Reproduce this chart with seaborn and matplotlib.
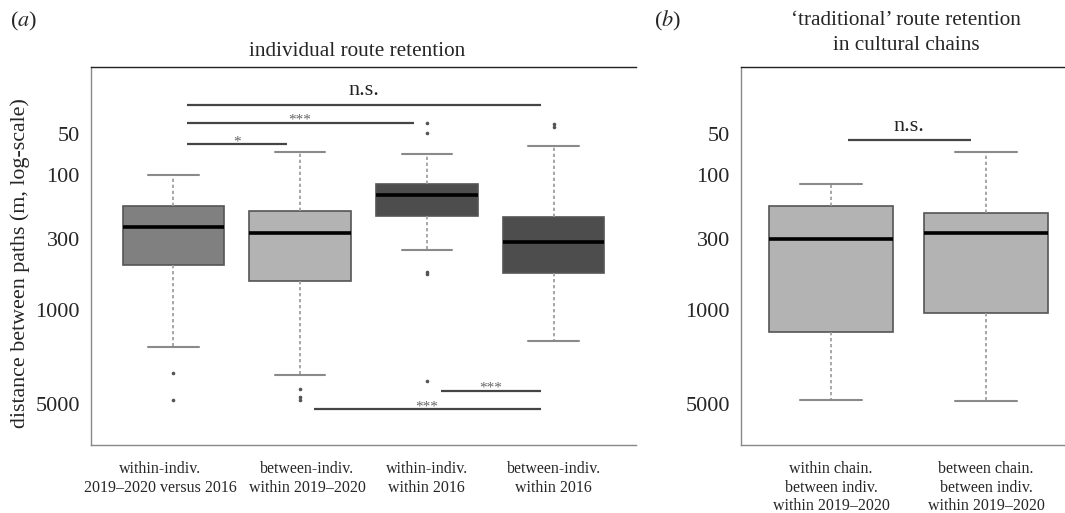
import numpy as np
import pandas as pd
import matplotlib
matplotlib.use("Agg")
import matplotlib.pyplot as plt
from matplotlib.ticker import NullLocator
from matplotlib.transforms import ScaledTranslation
import seaborn as sns

# (a) individual route retention -- distance between paths (m)
groups_a = [
    "within-indiv.\n2019–2020 versus 2016",
    "between-indiv.\nwithin 2019–2020",
    "within-indiv.\nwithin 2016",
    "between-indiv.\nwithin 2016",
]
dist_a1 = [100, 115, 135, 155, 170, 190, 210, 228, 242, 290, 350, 410, 465, 900, 1880, 2930, 4670]
dist_a2 = [67, 90, 120, 160, 185, 205, 228, 250, 271, 340, 420, 510, 611, 3062, 3870, 4440, 4670]
dist_a3 = [41, 49, 70, 95, 116, 122, 128, 135, 141, 155, 170, 185, 201, 358, 525, 540, 3373]
dist_a4 = [42, 44, 61, 120, 205, 230, 260, 290, 314, 370, 420, 480, 533, 800, 1200, 1500, 1690]
fills_a = ["#808080", "#b3b3b3", "#4d4d4d", "#4d4d4d"]

# (b) 'traditional' route retention in cultural chains
groups_b = [
    "within chain.\nbetween indiv.\nwithin 2019–2020",
    "between chain.\nbetween indiv.\nwithin 2019–2020",
]
dist_b1 = [117, 130, 145, 160, 170, 200, 230, 265, 298, 450, 700, 1000, 1454, 2000, 3000, 4000, 4645]
dist_b2 = [67, 100, 140, 170, 192, 210, 230, 250, 271, 400, 600, 800, 1063, 1800, 2800, 3800, 4750]
fills_b = ["#b3b3b3", "#b3b3b3"]

yticks = [50, 100, 300, 1000, 5000]

# significance bars: (group i, group j, label, level in m)
sig_a = [(0, 3, "n.s.", 30), (0, 2, "***", 41), (0, 1, "*", 59),
         (2, 3, "***", 3970), (1, 3, "***", 5490)]
sig_b = [(0, 1, "n.s.", 54.7)]


def long_df(groups, series):
    rows = []
    for g, vals in zip(groups, series):
        for v in vals:
            rows.append({"group": g, "dist": v})
    return pd.DataFrame(rows)


sns.set_style("white")
plt.rcParams["font.family"] = ["Liberation Serif", "DejaVu Serif"]
plt.rcParams["mathtext.fontset"] = "stix"

fig = plt.figure(figsize=(10.65, 5.13), dpi=100)
W, H = 1065, 513
ax_a = fig.add_axes([91 / W, (H - 445) / H, 545 / W, 378 / H])
ax_b = fig.add_axes([741 / W, (H - 445) / H, 335 / W, 378 / H])

box_kws = dict(
    saturation=1, width=0.8, log_scale=True, legend=False,
    boxprops=dict(edgecolor="#555555", linewidth=1.2),
    medianprops=dict(color="black", linewidth=2.6),
    whiskerprops=dict(color="#9a9a9a", linewidth=1.2, linestyle=(0, (2, 1.6))),
    capprops=dict(color="#8a8a8a", linewidth=1.5),
    flierprops=dict(marker="o", markersize=1.6, markerfacecolor="#555555",
                    markeredgecolor="#555555"),
)

df_a = long_df(groups_a, [dist_a1, dist_a2, dist_a3, dist_a4])
sns.boxplot(data=df_a, x="group", y="dist", hue="group", palette=fills_a, ax=ax_a, **box_kws)
df_b = long_df(groups_b, [dist_b1, dist_b2])
sns.boxplot(data=df_b, x="group", y="dist", hue="group", palette=fills_b, ax=ax_b, **box_kws)

for ax, xl in [(ax_a, (-0.65, 3.65)), (ax_b, (-0.58, 1.58))]:
    ax.set_ylim(10070, 15.8)
    ax.set_xlim(*xl)
    ax.set_yticks(yticks)
    ax.set_yticklabels([str(t) for t in yticks])
    ax.yaxis.set_minor_locator(NullLocator())
    ax.set_xlabel("")
    ax.spines["right"].set_visible(False)
    ax.spines["top"].set_color("#222222")
    ax.spines["left"].set_color("#888888")
    ax.spines["bottom"].set_color("#888888")
    for s in ax.spines.values():
        s.set_linewidth(1.0)
    ax.tick_params(axis="y", length=5, width=1, color="#888888", labelsize=16, pad=3)
    ax.tick_params(axis="x", length=3, width=1, color="#888888", labelsize=11.5, pad=8.5)
    for lab in ax.get_xticklabels():
        lab.set_linespacing(1.22)

ax_a.set_ylabel("distance between paths (m, log-scale)", fontsize=15.8)
ax_a.yaxis.set_label_coords(-61 / 545, (445 - 263) / 378)
ax_b.set_ylabel("")


def draw_sig(ax, sigs):
    for i, j, lab, lev in sigs:
        ax.plot([i + 0.11, j - 0.1], [lev, lev], color="#454545", lw=1.6,
                solid_capstyle="butt", clip_on=False)
        if lab == "n.s.":
            ax.annotate(lab, ((i + j) / 2, lev), xytext=(0, 3), textcoords="offset points",
                        ha="center", va="bottom", fontsize=16, color="#222222")
        else:
            ax.annotate(lab, ((i + j) / 2, lev), xytext=(0, -3), textcoords="offset points",
                        ha="center", va="bottom", fontsize=11, color="#666666")


draw_sig(ax_a, sig_a)
draw_sig(ax_b, sig_b)

# nudge the two crowded labels apart, as in the original
fig.canvas.draw()
shifts = [-13, 7, 0, 0]
for lab, dx in zip(ax_a.get_xticklabels(), shifts):
    lab.set_transform(lab.get_transform() + ScaledTranslation(dx / 100, 0, fig.dpi_scale_trans))

fig.text(24 / W, 1 - 21 / H, r"($\mathit{a}$)", ha="center", va="center", fontsize=16)
fig.text(668 / W, 1 - 21 / H, r"($\mathit{b}$)", ha="center", va="center", fontsize=16)
fig.text(357 / W, 1 - 56 / H, "individual route retention", ha="center", va="baseline",
         fontsize=15.3)
fig.text(906 / W, 1 - 25 / H, "‘traditional’ route retention", ha="center", va="baseline",
         fontsize=15.3)
fig.text(906 / W, 1 - 50 / H, "in cultural chains", ha="center", va="baseline", fontsize=15.3)

fig.savefig("out.png", dpi=100)
